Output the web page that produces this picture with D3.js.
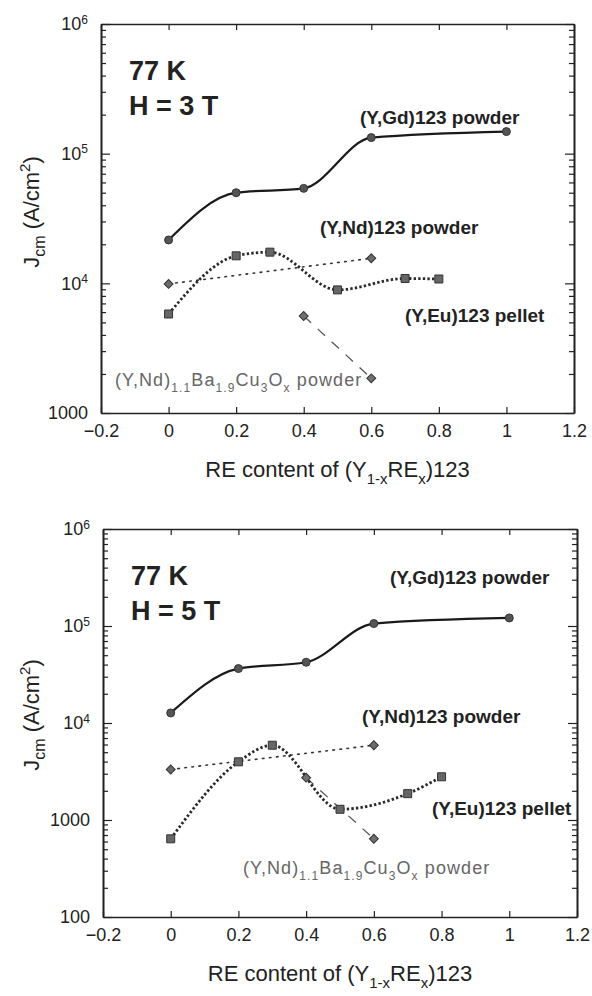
<!DOCTYPE html>
<html>
<head>
<meta charset="utf-8">
<script src="https://cdn.jsdelivr.net/npm/d3@7"></script>
<style>
  html, body { margin: 0; padding: 0; background: #fff; }
  svg { display: block; font-family: "Liberation Sans", Arial, sans-serif; }
</style>
</head>
<body>
<svg id="chart" width="592" height="996"></svg>
<script>
// RE content x of (Y1-xREx)123 for each sample series
const gdX   = [0, 0.2, 0.4, 0.6, 1.0];
const ndX   = [0, 0.6];
const euX   = [0, 0.2, 0.3, 0.5, 0.7, 0.8];
const nd11X = [0.4, 0.6];

// Jcm (A/cm2) at 77 K, H = 3 T
const gd3T   = [21600, 50000, 54000, 133000, 148000];
const nd3T   = [9900, 15600];
const eu3T   = [5800, 16300, 17400, 8900, 10900, 10800];
const nd113T = [5600, 1850];

// Jcm (A/cm2) at 77 K, H = 5 T
const gd5T   = [12700, 36400, 42300, 106000, 121000];
const nd5T   = [3320, 5900];
const eu5T   = [640, 3980, 5900, 1290, 1870, 2790];
const nd115T = [2730, 640];

// axis ticks
const xTicks = [-0.2, 0, 0.2, 0.4, 0.6, 0.8, 1, 1.2];
const yTicks3T = [1000, 10000, 100000, 1000000];
const yTicks5T = [100, 1000, 10000, 100000, 1000000];

const svg = d3.select("#chart");
const INK = "#222";

function minorTicks(major) {
  const out = [];
  for (let i = 0; i < major.length - 1; i++)
    for (let k = 2; k <= 9; k++) out.push(major[i] * k);
  return out;
}

function addText(g, x, y, parts, opts) {
  const t = g.append("text").attr("x", x).attr("y", y)
    .attr("font-size", opts.size).attr("font-weight", opts.weight || "normal")
    .attr("fill", opts.fill || INK)
    .attr("text-anchor", opts.anchor || "start");
  if (opts.spacing) t.attr("letter-spacing", opts.spacing);
  if (opts.transform) t.attr("transform", opts.transform);
  let shift = 0;
  parts.forEach(p => {
    const s = t.append("tspan").text(p.t);
    const target = p.sub ? p.sub : (p.sup ? -p.sup : 0);
    if (target !== shift) { s.attr("dy", target - shift); shift = target; }
    if (p.size) s.attr("font-size", p.size);
  });
  return t;
}

function drawPanel(cfg) {
  const x = d3.scaleLinear().domain([-0.2, 1.2]).range([cfg.left, cfg.right]);
  const y = d3.scaleLog().domain([cfg.yTicks[0], cfg.yTicks[cfg.yTicks.length - 1]])
    .range([cfg.bottom, cfg.top]);
  const g = svg.append("g");

  // minor y ticks, left and right, pointing inward
  const minor = minorTicks(cfg.yTicks);
  g.append("g").attr("transform", `translate(${cfg.left},0)`)
    .call(d3.axisLeft(y).tickValues(minor).tickSizeInner(-5).tickSizeOuter(0).tickFormat(""));
  g.append("g").attr("transform", `translate(${cfg.right},0)`)
    .call(d3.axisRight(y).tickValues(minor).tickSizeInner(-5).tickSizeOuter(0).tickFormat(""));

  // major y ticks with labels
  const yl = g.append("g").attr("transform", `translate(${cfg.left},0)`)
    .call(d3.axisLeft(y).tickValues(cfg.yTicks).tickSizeInner(-9).tickSizeOuter(0).tickPadding(13).tickFormat(""));
  yl.selectAll(".tick text").each(function(d) {
    const t = d3.select(this).attr("font-size", 18).attr("fill", INK)
      .attr("font-family", "'Liberation Sans', Arial, sans-serif");
    const e = Math.round(Math.log10(d));
    if (e >= 4) {
      t.append("tspan").text("10");
      t.append("tspan").text(e).attr("font-size", 12).attr("dy", "-0.55em");
    } else {
      t.text(d3.format("d")(d));
    }
  });
  g.append("g").attr("transform", `translate(${cfg.right},0)`)
    .call(d3.axisRight(y).tickValues(cfg.yTicks).tickSizeInner(-9).tickSizeOuter(0).tickFormat(""));

  // x axes bottom (labelled) and top
  g.append("g").attr("transform", `translate(0,${cfg.bottom})`)
    .call(d3.axisBottom(x).tickValues(xTicks).tickSizeInner(-6).tickSizeOuter(0).tickPadding(11)
      .tickFormat(d => d3.format("")(+d.toFixed(1))))
    .selectAll(".tick text").attr("font-size", 18).attr("fill", INK)
      .attr("font-family", "'Liberation Sans', Arial, sans-serif");
  g.append("g").attr("transform", `translate(0,${cfg.top})`)
    .call(d3.axisTop(x).tickValues(xTicks).tickSizeInner(-6).tickSizeOuter(0).tickFormat(""));

  g.selectAll(".domain").attr("stroke", INK).attr("stroke-width", 1.6);
  g.selectAll(".tick line").attr("stroke", INK).attr("stroke-width", 1.2);

  // series curves
  const smooth = d3.line().x(d => x(d[0])).y(d => y(d[1])).curve(d3.curveMonotoneX);
  const straight = d3.line().x(d => x(d[0])).y(d => y(d[1]));
  const zip = (xs, ys) => xs.map((v, i) => [v, ys[i]]);

  const gd = zip(gdX, cfg.gd), nd = zip(ndX, cfg.nd), eu = zip(euX, cfg.eu), nd11 = zip(nd11X, cfg.nd11);

  g.append("path").attr("d", straight(nd)).attr("fill", "none")
    .attr("stroke", "#333").attr("stroke-width", 1.6).attr("stroke-dasharray", "1.6,5.5")
    .attr("stroke-linecap", "round");
  g.append("path").attr("d", straight(nd11)).attr("fill", "none")
    .attr("stroke", "#555").attr("stroke-width", 1.3).attr("stroke-dasharray", "10,9");
  g.append("path").attr("d", smooth(eu)).attr("fill", "none")
    .attr("stroke", "#2a2a2a").attr("stroke-width", 2.8).attr("stroke-dasharray", "2.4,2.2");
  g.append("path").attr("d", smooth(gd)).attr("fill", "none")
    .attr("stroke", "#1a1a1a").attr("stroke-width", 2.2);

  // markers
  const sq = d3.symbol().type(d3.symbolSquare).size(64)();
  const dia = d3.symbol().type(d3.symbolSquare).size(40)();
  const circ = d3.symbol().type(d3.symbolCircle).size(50)();
  const mark = (data, path, fill, rot) => g.append("g").selectAll("path").data(data).join("path")
    .attr("d", path).attr("fill", fill).attr("stroke", "#333").attr("stroke-width", 1)
    .attr("transform", d => `translate(${x(d[0])},${y(d[1])}) rotate(${rot})`);
  mark(nd, dia, "#6a6a6a", 45);
  mark(nd11, dia, "#707070", 45);
  mark(eu, sq, "#666", 0);
  mark(gd, circ, "#555", 0);

  // annotations
  addText(g, cfg.left + 28, cfg.top + 56, [{t: "77 K"}], {size: 27, weight: "bold"});
  addText(g, cfg.left + 28, cfg.top + 91, [{t: cfg.field}], {size: 27, weight: "bold"});
  addText(g, cfg.gdLab[0], cfg.gdLab[1], [{t: "(Y,Gd)123 powder"}], {size: 19, weight: "bold"});
  addText(g, cfg.ndLab[0], cfg.ndLab[1], [{t: "(Y,Nd)123 powder"}], {size: 19, weight: "bold"});
  addText(g, cfg.euLab[0], cfg.euLab[1], [{t: "(Y,Eu)123 pellet"}], {size: 19, weight: "bold"});
  addText(g, cfg.nd11Lab[0], cfg.nd11Lab[1], [
    {t: "(Y,Nd)"}, {t: "1.1", sub: 6, size: 12}, {t: "Ba"}, {t: "1.9", sub: 6, size: 12},
    {t: "Cu"}, {t: "3", sub: 6, size: 12}, {t: "O"}, {t: "x", sub: 6, size: 12}, {t: " powder"}
  ], {size: 18, fill: "#666", spacing: 1.1});

  // axis titles
  const cx = (cfg.left + cfg.right) / 2;
  addText(g, cx, cfg.bottom + 64, [
    {t: "RE content of (Y"}, {t: "1-x", sub: 7, size: 15}, {t: "RE"}, {t: "x", sub: 7, size: 15}, {t: ")123"}
  ], {size: 22, anchor: "middle"});
  const ty = cfg.yTitleY;
  addText(g, 0, 0, [
    {t: "J"}, {t: "cm", sub: 6, size: 16}, {t: " (A/cm"}, {t: "2", sup: 9, size: 15}, {t: ")"}
  ], {size: 22, anchor: "middle", transform: `translate(39,${ty}) rotate(-90)`});
}

drawPanel({
  left: 101, right: 574, top: 24, bottom: 413, yTicks: yTicks3T, field: "H = 3 T",
  gd: gd3T, nd: nd3T, eu: eu3T, nd11: nd113T,
  gdLab: [360, 124], ndLab: [320, 234], euLab: [405, 322], nd11Lab: [115, 386], yTitleY: 212
});
drawPanel({
  left: 103, right: 577, top: 529, bottom: 917, yTicks: yTicks5T, field: "H = 5 T",
  gd: gd5T, nd: nd5T, eu: eu5T, nd11: nd115T,
  gdLab: [390, 584], ndLab: [362, 723], euLab: [432, 815], nd11Lab: [243, 874], yTitleY: 715
});
</script>
</body>
</html>
